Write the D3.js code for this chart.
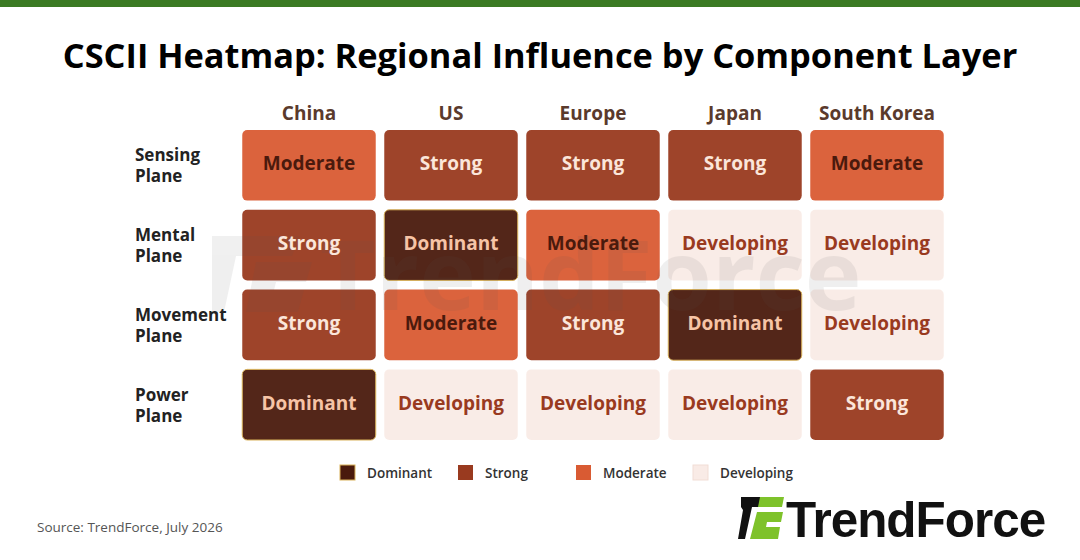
<!DOCTYPE html>
<html><head><meta charset="utf-8">
<script src="https://cdn.jsdelivr.net/npm/d3@7"></script>
<style>body{margin:0;background:#fff}svg{display:block}</style>
</head><body>
<svg id="c" width="1080" height="560"></svg>
<script>
const regions = ["China","US","Europe","Japan","South Korea"];
const layers = [["Sensing","Plane"],["Mental","Plane"],["Movement","Plane"],["Power","Plane"]];
const levels = ["Dominant","Strong","Moderate","Developing"];
const values = [
  ["Moderate","Strong","Strong","Strong","Moderate"],
  ["Strong","Dominant","Moderate","Developing","Developing"],
  ["Strong","Moderate","Strong","Dominant","Developing"],
  ["Dominant","Developing","Developing","Developing","Strong"]
];
const title = "CSCII Heatmap: Regional Influence by Component Layer";
const source = "Source: TrendForce, July 2026";

const FONT = "'Open Sans','Noto Sans',sans-serif";
const fill = d3.scaleOrdinal().domain(levels).range(["#4a1a0d","#993a1f","#d95b33","#f9ebe6"]);
const textFill = d3.scaleOrdinal().domain(levels).range(["#f6c4a6","#fbe6da","#4a1a0d","#993a1f"]);

const svg = d3.select("#c");
svg.append("rect").attr("x",0).attr("y",0).attr("width",1080).attr("height",7).attr("fill","#3b7a23");

function fit(sel, w){
  const n = sel.node(); const l = n.getComputedTextLength();
  const fs = parseFloat(sel.attr("font-size"));
  sel.attr("font-size", fs*w/l);
}

const t = svg.append("text").attr("x",540).attr("y",68).attr("text-anchor","middle")
  .attr("font-family",FONT).attr("font-weight",700).attr("font-size",34).attr("fill","#000").text(title);
fit(t, 955);

const x = d3.scaleBand().domain(regions).range([238,948]).paddingInner(0.06).paddingOuter(0.03);
const y = d3.scaleBand().domain(d3.range(layers.length)).range([126,444]).paddingInner(0.115).paddingOuter(0.05);

// watermark (behind cell labels)
const wm = svg.append("g").attr("opacity",0.09);
wm.append("path").attr("d","M212,236 L300,236 L292,256 L236,256 L224,312 L212,312 Z").attr("fill","#555");
wm.append("path").attr("d","M256,262 L312,262 L306,282 L276,282 L274,290 L304,290 L298,312 L246,312 Z").attr("fill","#555");

svg.append("g").selectAll("text").data(regions).join("text")
  .attr("x",d=>x(d)+x.bandwidth()/2).attr("y",120).attr("text-anchor","middle")
  .attr("font-family",FONT).attr("font-weight",700).attr("font-size",19).attr("fill","#5a3a2c").text(d=>d);

const rl = svg.append("g").selectAll("text").data(layers).join("text")
  .attr("x",135).attr("y",(d,i)=>y(i)+y.bandwidth()/2-4)
  .attr("font-family",FONT).attr("font-weight",700).attr("font-size",17).attr("fill","#222");
rl.append("tspan").attr("x",135).text(d=>d[0]);
rl.append("tspan").attr("x",135).attr("dy",21).text(d=>d[1]);

const cells = [];
values.forEach((row,i)=>row.forEach((v,j)=>cells.push({i,j,v})));
const g = svg.append("g");
g.selectAll("rect").data(cells).join("rect")
  .attr("x",d=>x(regions[d.j])).attr("y",d=>y(d.i))
  .attr("width",x.bandwidth()).attr("height",y.bandwidth()).attr("rx",5)
  .attr("fill",d=>fill(d.v)).attr("fill-opacity",0.95)
  .attr("stroke",d=>d.v==="Dominant"?"#d9b25a":"none").attr("stroke-width",1);

wm.raise();
wm.append("text").attr("x",320).attr("y",310).attr("font-family",FONT).attr("font-weight",700)
  .attr("font-size",96).attr("fill","#555").text("TrendForce");

const gl = svg.append("g");
gl.selectAll("text").data(cells).join("text")
  .attr("x",d=>x(regions[d.j])+x.bandwidth()/2).attr("y",d=>y(d.i)+y.bandwidth()/2+5)
  .attr("text-anchor","middle").attr("font-family",FONT).attr("font-weight",700).attr("font-size",19)
  .attr("fill",d=>textFill(d.v)).text(d=>d.v);

// legend
const lx = d3.scaleOrdinal().domain(levels).range([340,458,576,693]);
const lg = svg.append("g").selectAll("g").data(levels).join("g").attr("transform",d=>`translate(${lx(d)},465)`);
lg.append("rect").attr("width",15).attr("height",15).attr("fill",d=>fill(d))
  .attr("stroke",d=>d==="Dominant"?"#d9b25a":d==="Developing"?"#f1ddd5":"none");
lg.append("text").attr("x",27).attr("y",13).attr("font-family",FONT).attr("font-weight",600)
  .attr("font-size",13.5).attr("fill","#333").text(d=>d);

svg.append("text").attr("x",37).attr("y",532).attr("font-family",FONT).attr("font-size",13.5)
  .attr("fill","#555").text(source);

// logo
const logo = svg.append("g");
logo.append("path").attr("d","M741,497 L780,497 L778,507 L752,507 L745,539 L738,539 L743,510 L741,507 Z").attr("fill","#111");
logo.append("path").attr("d","M760,497 L784,497 L782,507 L758,507 Z").attr("fill","#7ec22a");
logo.append("path").attr("d","M757,512 L783,512 L781,522 L767,522 L766,527 L780,527 L778,539 L750,539 Z").attr("fill","#7ec22a");
const lt = logo.append("text").attr("x",786).attr("y",537).attr("font-family","'Liberation Sans',Arial,sans-serif")
  .attr("font-weight",700).attr("font-size",44).attr("fill","#111").attr("letter-spacing",-1).text("TrendForce");
fit(lt, 258);
</script>
</body></html>
